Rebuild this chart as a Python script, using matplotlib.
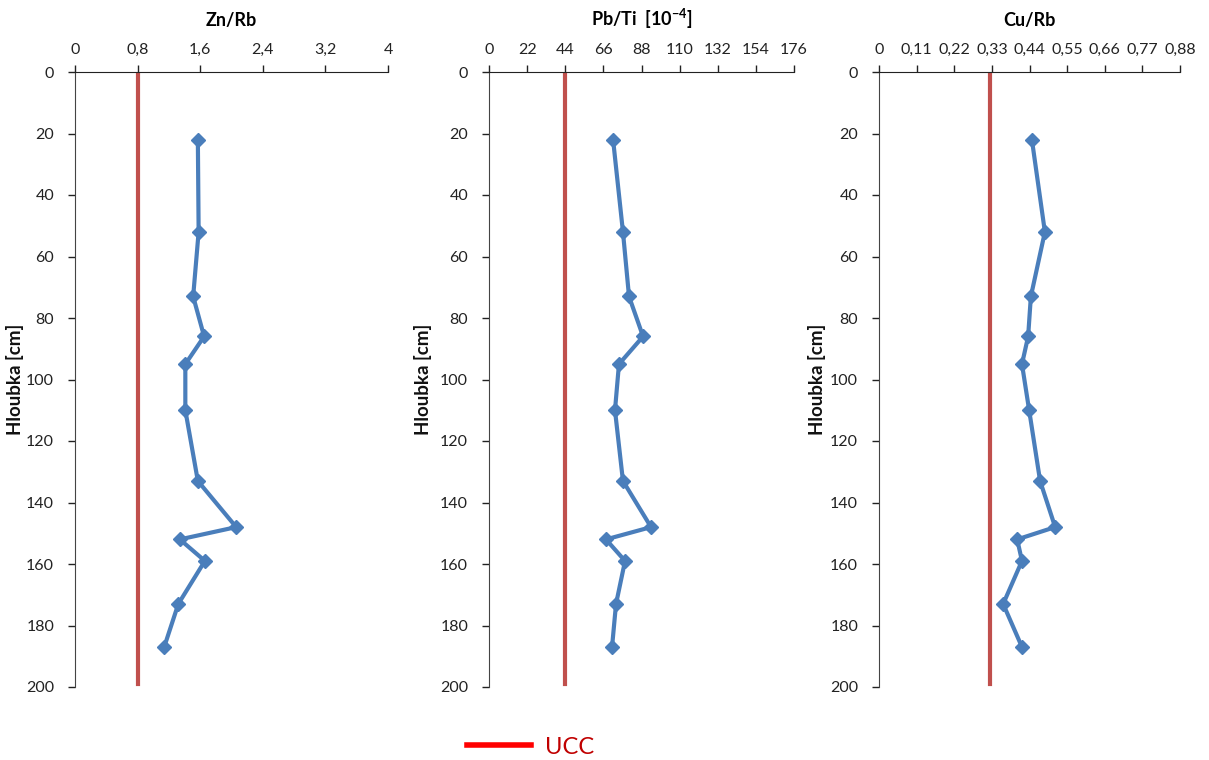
import matplotlib
matplotlib.use("Agg")
import matplotlib.pyplot as plt
from matplotlib.lines import Line2D

plt.rcParams['font.family'] = ['Lato', 'DejaVu Sans']
plt.rcParams['mathtext.fontset'] = 'custom'
plt.rcParams['mathtext.bf'] = 'Lato:bold'
plt.rcParams['mathtext.rm'] = 'Lato'

depth = [22, 52, 73, 86, 95, 110, 133, 148, 152, 159, 173, 187]
zn_rb = [1.57, 1.58, 1.51, 1.65, 1.41, 1.41, 1.57, 2.06, 1.34, 1.66, 1.32, 1.14]
pb_ti = [71.6, 77.3, 80.8, 88.9, 75.0, 72.7, 77.3, 93.5, 67.5, 78.5, 73.3, 71.0]
cu_rb = [0.447, 0.485, 0.444, 0.436, 0.418, 0.439, 0.471, 0.515, 0.404, 0.418, 0.363, 0.418]

ucc = [0.8, 44, 0.325]
titles = ["Zn/Rb", r"Pb/Ti  [10$^{\mathbf{-4}}$]", "Cu/Rb"]
ylabel = "Hloubka [cm]"
xticks = [
    [0, 0.8, 1.6, 2.4, 3.2, 4],
    [0, 22, 44, 66, 88, 110, 132, 154, 176],
    [0, 0.11, 0.22, 0.33, 0.44, 0.55, 0.66, 0.77, 0.88],
]
xticklabels = [
    ["0", "0,8", "1,6", "2,4", "3,2", "4"],
    ["0", "22", "44", "66", "88", "110", "132", "154", "176"],
    ["0", "0,11", "0,22", "0,33", "0,44", "0,55", "0,66", "0,77", "0,88"],
]
yticks = list(range(0, 201, 20))
series = [zn_rb, pb_ti, cu_rb]

W, H = 1209, 760
fig = plt.figure(figsize=(W / 100, H / 100), dpi=100)

# pixel extents of the three panels and their y-label positions
panels = [(75, 388), (489, 794), (879, 1180)]
ylabel_x = [15, 423, 817]
top_px, bot_px = 72, 687

blue = '#4a7ebb'
red = '#c0504d'

for i, (l, r) in enumerate(panels):
    ax = fig.add_axes([l / W, 1 - bot_px / H, (r - l) / W, (bot_px - top_px) / H])
    ax.plot(series[i], depth, color=blue, lw=3, marker='D', ms=7, zorder=3)
    ax.plot([ucc[i], ucc[i]], [0, 199], color=red, lw=3, zorder=2)
    ax.set_xlim(xticks[i][0], xticks[i][-1])
    ax.set_ylim(200, 0)
    ax.xaxis.tick_top()
    ax.set_xticks(xticks[i])
    ax.set_xticklabels(xticklabels[i])
    ax.set_yticks(yticks)
    for s in ['right', 'bottom']:
        ax.spines[s].set_visible(False)
    ax.spines['top'].set_color('#222222')
    ax.spines['left'].set_color('#444444')
    ax.tick_params(axis='both', direction='out', length=5, width=1, labelsize=11.5,
                   colors='#222222')
    ax.tick_params(axis='x', pad=6)
    ax.tick_params(axis='y', pad=10)
    ax.set_title(titles[i], fontsize=13, fontweight='bold', pad=12)
    fig.text(ylabel_x[i] / W, 1 - 379 / H, ylabel, rotation=90, ha='center', va='center',
             fontsize=13.5, fontweight='bold', color='#111111')

# legend
fig.add_artist(Line2D([467 / W, 531 / W], [1 - 745 / H, 1 - 745 / H], color='#ff0000', lw=4))
fig.text(545 / W, 1 - 747 / H, "UCC", color='#c00000', fontsize=17, va='center', ha='left')

fig.savefig("out.png", dpi=100)
